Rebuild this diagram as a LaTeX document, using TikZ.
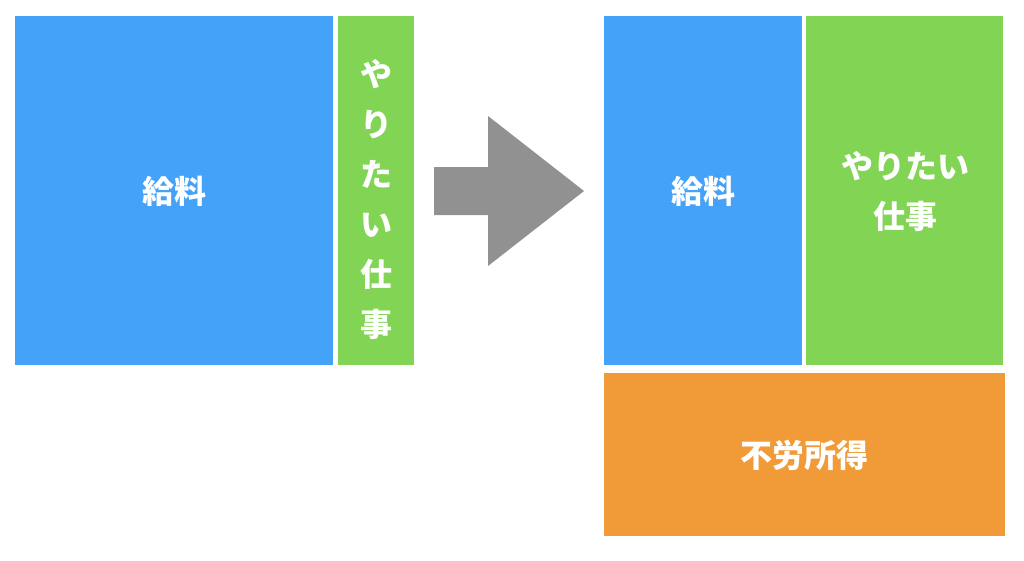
\documentclass[tikz,border=0pt]{standalone}
\usepackage{fontspec}
\setmainfont{Noto Sans CJK JP}
\usepackage{xcolor}
\usetikzlibrary{positioning}

\definecolor{payblue}{HTML}{44A2F8}
\definecolor{workgreen}{HTML}{82D455}
\definecolor{passorange}{HTML}{F19A38}
\definecolor{arrowgray}{HTML}{919191}

\tikzset{
  boxlabel/.style={text=white, font=\fontsize{32}{50}\selectfont\bfseries, align=center}
}

\begin{document}
\begin{tikzpicture}[x=1pt, y=-1pt]

\useasboundingbox (0,0) rectangle (1024,560);

% before
\fill[payblue] (15,16) rectangle (333,365);
\fill[workgreen] (338,16) rectangle (414,365);

\node[boxlabel] (payL) at (174,191) {給料};
\node[boxlabel] (workL) at (376,199) {や\\り\\た\\い\\仕\\事};

% arrow
\fill[arrowgray] (434,167) -- (488,167) -- (488,116) -- (584,191)
  -- (488,266) -- (488,215) -- (434,215) -- cycle;

% after
\fill[payblue] (604,16) rectangle (802,365);
\fill[workgreen] (806,16) rectangle (1003,365);
\fill[passorange] (604,373) rectangle (1005,536);

\node[boxlabel] (payR) at (703,191) {給料};
\node[boxlabel] (workR) at (905,191) {やりたい\\仕事};
\node[boxlabel] (passive) at (804,455) {不労所得};

\end{tikzpicture}
\end{document}
